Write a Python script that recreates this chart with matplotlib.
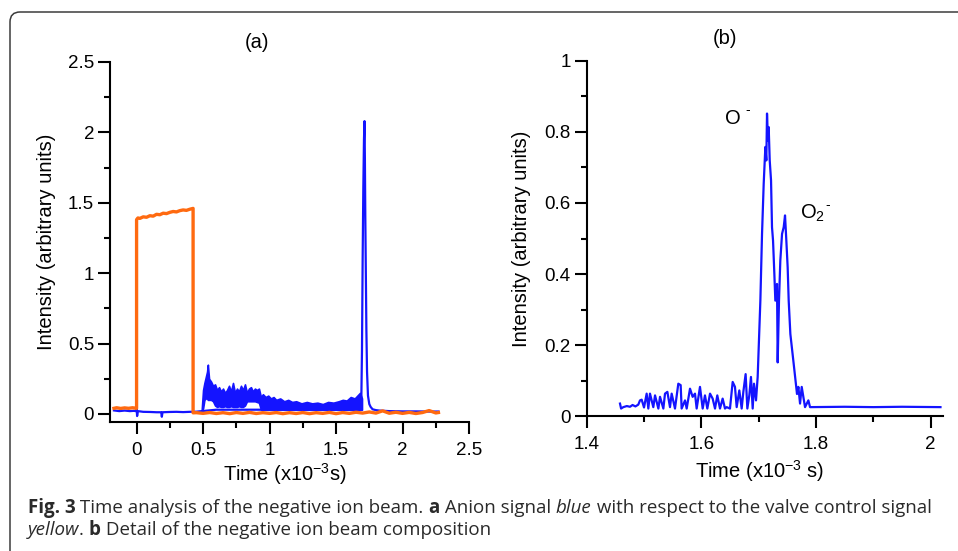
import numpy as np
import matplotlib.pyplot as plt
from matplotlib.patches import FancyBboxPatch
from matplotlib.transforms import IdentityTransform

plt.rcParams['font.family'] = ['Liberation Sans', 'DejaVu Sans']

# ---- data, panel (a) ----
# valve control signal (orange)
orange_t = [-0.17, -0.15, -0.12, -0.09, -0.06, -0.03, -0.005, 0.0, 0.0,
            0.01, 0.025, 0.05, 0.075, 0.1, 0.125, 0.15, 0.175, 0.2, 0.225,
            0.25, 0.275, 0.3, 0.325, 0.35, 0.375, 0.4, 0.425, 0.425,
            0.45, 0.5, 0.55, 0.6, 0.65, 0.7, 0.75, 0.8, 0.85, 0.9,
            0.95, 1.0, 1.05, 1.1, 1.15, 1.2, 1.25, 1.3, 1.35, 1.4,
            1.45, 1.5, 1.55, 1.6, 1.65, 1.7, 1.75, 1.8, 1.85, 1.9,
            1.95, 2.0, 2.05, 2.1, 2.15, 2.2, 2.25, 2.27]
orange_y = [0.04, 0.044, 0.039, 0.043, 0.04, 0.044, 0.04, 0.04, 1.38,
            1.392, 1.389, 1.4, 1.397, 1.408, 1.405, 1.418, 1.415, 1.426, 1.423,
            1.432, 1.438, 1.435, 1.444, 1.449, 1.446, 1.454, 1.46, 0.008,
            0.009, 0.004, 0.01, 0.003, 0.009, 0.002, 0.01, 0.004, 0.011, 0.003,
            0.009, 0.004, 0.01, 0.002, 0.009, 0.003, 0.01, 0.002, 0.009, 0.004,
            0.011, 0.002, 0.01, 0.004, 0.012, 0.006, 0.014, 0.006, 0.022, 0.005,
            0.012, 0.004, 0.011, 0.003, 0.01, 0.024, 0.007, 0.01]

# anion signal (blue), main trace
blue_a_t = [-0.17, -0.13, -0.09, -0.05, -0.02, -0.005, 0.0, 0.004, 0.01, 0.05,
            0.1, 0.15, 0.185, 0.19, 0.195, 0.25, 0.3, 0.35, 0.4, 0.45,
            0.49, 0.6, 0.8, 1.0, 1.2, 1.4, 1.6, 1.69, 1.695, 1.70,
            1.705, 1.71, 1.714, 1.717, 1.72, 1.724, 1.728, 1.733, 1.74, 1.75,
            1.76, 1.775, 1.8, 1.825, 1.9, 2.0, 2.1, 2.2, 2.27]
blue_a_y = [0.025, 0.02, 0.024, 0.02, 0.022, 0.02, 0.045, -0.015, 0.02, 0.015,
            0.014, 0.012, 0.012, -0.02, 0.012, 0.014, 0.015, 0.013, 0.015, 0.016,
            0.02, 0.03, 0.03, 0.03, 0.03, 0.03, 0.03, 0.1, 0.45, 1.1,
            1.6, 1.95, 2.08, 1.8, 1.4, 1.0, 0.6, 0.3, 0.13, 0.07,
            0.05, 0.033, 0.027, 0.024, 0.02, 0.018, 0.018, 0.017, 0.017]

# noisy part of the anion signal: envelope
band_t = [0.49, 0.50, 0.51, 0.52, 0.53, 0.536, 0.545, 0.56, 0.575, 0.59,
          0.605, 0.62, 0.635, 0.65, 0.665, 0.68, 0.695, 0.71, 0.725, 0.74,
          0.755, 0.77, 0.785, 0.80, 0.815, 0.83, 0.845, 0.86, 0.875, 0.89,
          0.905, 0.92, 0.935, 0.95, 0.97, 0.99, 1.01, 1.03, 1.05, 1.08,
          1.11, 1.14, 1.17, 1.2, 1.24, 1.28, 1.32, 1.36, 1.4, 1.44,
          1.48, 1.52, 1.55, 1.58, 1.61, 1.64, 1.66, 1.68, 1.695]
band_hi = [0.03, 0.17, 0.22, 0.26, 0.30, 0.35, 0.25, 0.23, 0.2, 0.21,
           0.17, 0.19, 0.16, 0.18, 0.15, 0.17, 0.2, 0.16, 0.22, 0.15,
           0.18, 0.16, 0.2, 0.17, 0.21, 0.15, 0.18, 0.19, 0.16, 0.18,
           0.17, 0.18, 0.12, 0.14, 0.12, 0.13, 0.11, 0.12, 0.1, 0.11,
           0.09, 0.1, 0.085, 0.09, 0.075, 0.085, 0.075, 0.08, 0.07, 0.085,
           0.08, 0.09, 0.1, 0.095, 0.12, 0.11, 0.13, 0.15, 0.11]
band_lo = [0.02, 0.04, 0.1, 0.11, 0.11, 0.1, 0.1, 0.1, 0.09, 0.06,
           0.05, 0.055, 0.05, 0.05, 0.055, 0.05, 0.05, 0.055, 0.05, 0.05,
           0.05, 0.055, 0.05, 0.05, 0.06, 0.09, 0.09, 0.09, 0.09, 0.09,
           0.085, 0.08, 0.03, 0.03, 0.03, 0.03, 0.03, 0.03, 0.03, 0.03,
           0.03, 0.03, 0.03, 0.03, 0.03, 0.03, 0.03, 0.03, 0.03, 0.03,
           0.03, 0.03, 0.03, 0.03, 0.03, 0.03, 0.03, 0.03, 0.03]

# ---- data, panel (b) ----
blue_b_t = [1.4581, 1.4600, 1.4639, 1.4700, 1.4756, 1.4800, 1.4850, 1.4900, 1.4930, 1.4959,
            1.5000, 1.5046, 1.5075, 1.5104, 1.5162, 1.5192, 1.5250, 1.5279, 1.5337, 1.5366,
            1.5407, 1.5453, 1.5482, 1.5540, 1.5598, 1.5639, 1.5656, 1.5715, 1.5744, 1.5802,
            1.5848, 1.5889, 1.5918, 1.5976, 1.6023, 1.6063, 1.6104, 1.6151, 1.6197, 1.6238,
            1.6278, 1.6325, 1.6371, 1.6412, 1.6441, 1.6499, 1.6546, 1.6586, 1.6616, 1.6662,
            1.6703, 1.6732, 1.6772, 1.6802, 1.6836, 1.6865, 1.6895, 1.6918, 1.6953, 1.6982,
            1.7029, 1.7058, 1.7087, 1.7116, 1.7133, 1.7145, 1.7162, 1.7174, 1.7192, 1.7215,
            1.7232, 1.7250, 1.7273, 1.7290, 1.7319, 1.7331, 1.7354, 1.7377, 1.7407, 1.7436,
            1.7459, 1.7482, 1.7505, 1.7523, 1.7552, 1.7610, 1.7668, 1.7692, 1.7721, 1.7750,
            1.7808, 1.7866, 1.7895, 1.85, 1.90, 1.95, 2.017]
blue_b_y = [0.035, 0.021, 0.025, 0.028, 0.026, 0.031, 0.027, 0.032, 0.044, 0.046,
            0.024, 0.063, 0.021, 0.063, 0.025, 0.058, 0.021, 0.054, 0.021, 0.063,
            0.068, 0.025, 0.063, 0.021, 0.091, 0.087, 0.021, 0.044, 0.021, 0.077,
            0.054, 0.063, 0.021, 0.082, 0.021, 0.058, 0.021, 0.063, 0.049, 0.021,
            0.058, 0.021, 0.049, 0.021, 0.025, 0.021, 0.096, 0.082, 0.025, 0.072,
            0.021, 0.068, 0.118, 0.021, 0.058, 0.110, 0.021, 0.091, 0.044, 0.110,
            0.325, 0.513, 0.654, 0.758, 0.720, 0.852, 0.776, 0.814, 0.720, 0.664,
            0.532, 0.494, 0.400, 0.325, 0.372, 0.151, 0.325, 0.438, 0.513, 0.532,
            0.565, 0.494, 0.419, 0.325, 0.231, 0.147, 0.062, 0.082, 0.035, 0.082,
            0.025, 0.044, 0.025, 0.026, 0.025, 0.026, 0.025]

xticks_a = [0, 0.5, 1, 1.5, 2, 2.5]
xticklabels_a = ['0', '0.5', '1', '1.5', '2', '2.5']
yticks_a = [0, 0.5, 1, 1.5, 2, 2.5]
yticklabels_a = ['0', '0.5', '1', '1.5', '2', '2.5']
xticks_b = [1.4, 1.6, 1.8, 2.0]
xticklabels_b = ['1.4', '1.6', '1.8', '2']
yticks_b = [0, 0.2, 0.4, 0.6, 0.8, 1.0]
yticklabels_b = ['0', '0.2', '0.4', '0.6', '0.8', '1']

caption1 = [('Fig. 3', 'bold', 'normal'),
            (' Time analysis of the negative ion beam. ', 'normal', 'normal'),
            ('a', 'bold', 'normal'),
            (' Anion signal ', 'normal', 'normal'),
            ('blue', 'normal', 'italic'),
            (' with respect to the valve control signal', 'normal', 'normal')]
caption2 = [('yellow', 'normal', 'italic'),
            ('. ', 'normal', 'normal'),
            ('b', 'bold', 'normal'),
            (' Detail of the negative ion beam composition', 'normal', 'normal')]

BLUE = '#1414ff'
ORANGE = '#ff6a10'

fig = plt.figure(figsize=(9.58, 5.51), dpi=100)

# rounded frame around the figure (runs off right and bottom edges)
frame = FancyBboxPatch((10, -30), 1000, 569, boxstyle='round,pad=0,rounding_size=10',
                       transform=IdentityTransform(), fill=False, ec='#3c3c3c', lw=1.1)
fig.add_artist(frame)

ax1 = fig.add_axes([0.1148, 0.2347, 0.3748, 0.6528])
ax2 = fig.add_axes([0.6124, 0.2450, 0.3723, 0.6443])


def style(ax):
    for s in ['top', 'right']:
        ax.spines[s].set_visible(False)
    for s in ['left', 'bottom']:
        ax.spines[s].set_linewidth(1.5)
    ax.tick_params(which='major', length=8.5, width=1.5, labelsize=13.5)
    ax.tick_params(which='minor', length=4, width=1.5)
    ax.tick_params(axis='x', which='major', pad=6)
    ax.tick_params(axis='y', which='major', pad=3)


# panel (a)
ax1.fill_between(band_t, band_lo, band_hi, color=BLUE, lw=1.2, edgecolor=BLUE)
ax1.plot(blue_a_t, blue_a_y, color=BLUE, lw=1.6)
ax1.plot(orange_t, orange_y, color=ORANGE, lw=2.4)
ax1.set_xlim(-0.2, 2.5)
ax1.set_ylim(-0.055, 2.5)
ax1.set_xticks(xticks_a)
ax1.set_xticklabels(xticklabels_a)
ax1.set_xticks([0.25, 0.75, 1.25, 1.75, 2.25], minor=True)
ax1.set_yticks(yticks_a)
ax1.set_yticklabels(yticklabels_a)
ax1.set_yticks([0.25, 0.75, 1.25, 1.75, 2.25], minor=True)
style(ax1)
ax1.set_xlabel(r'Time (x10$^{\mathregular{-3}}$s)', fontsize=14.5, va='center')
ax1.xaxis.set_label_coords(0.487, -0.146)
ax1.set_ylabel('Intensity (arbitrary units)', fontsize=14.5, va='center')
ax1.yaxis.set_label_coords(-0.178, 0.5)

# panel (b)
ax2.plot(blue_b_t, blue_b_y, color=BLUE, lw=1.6)
ax2.set_xlim(1.4, 2.022)
ax2.set_ylim(0, 1)
ax2.set_xticks(xticks_b)
ax2.set_xticklabels(xticklabels_b)
ax2.set_xticks([1.5, 1.7, 1.9], minor=True)
ax2.set_yticks(yticks_b)
ax2.set_yticklabels(yticklabels_b)
ax2.set_yticks([0.1, 0.3, 0.5, 0.7, 0.9], minor=True)
style(ax2)
ax2.set_xlabel(r'Time (x10$^{\mathregular{-3}}$ s)', fontsize=14.5, va='center')
ax2.xaxis.set_label_coords(0.486, -0.155)
ax2.set_ylabel('Intensity (arbitrary units)', fontsize=14.5, va='center')
ax2.yaxis.set_label_coords(-0.184, 0.5)
ax2.text(1.641, 0.839, 'O', fontsize=14.5, va='center', ha='left')
ax2.text(1.676, 0.862, '-', fontsize=10, va='center', ha='left')
ax2.text(1.772, 0.571, r'O$_{\mathregular{2}}$', fontsize=14.5, va='center', ha='left')
ax2.text(1.8155, 0.594, '-', fontsize=10, va='center', ha='left')

fig.text(257 / 958, 1 - 42 / 551, '(a)', fontsize=14.5, ha='center', va='center')
fig.text(725 / 958, 1 - 38 / 551, '(b)', fontsize=14.5, ha='center', va='center')

# caption, drawn piece by piece so bold / italic parts sit inline
renderer = fig.canvas.get_renderer()


def caption_line(parts, x_px, y_px):
    for txt, weight, style_ in parts:
        t = fig.text(x_px / 958, 1 - y_px / 551, txt, family='Open Sans', fontsize=13.5,
                     fontweight=weight, fontstyle=style_, color='#2a2a2a', va='baseline')
        x_px += t.get_window_extent(renderer=renderer).width


caption_line(caption1, 27.7, 513)
caption_line(caption2, 27.7, 535)

fig.savefig('out.png', dpi=100)
